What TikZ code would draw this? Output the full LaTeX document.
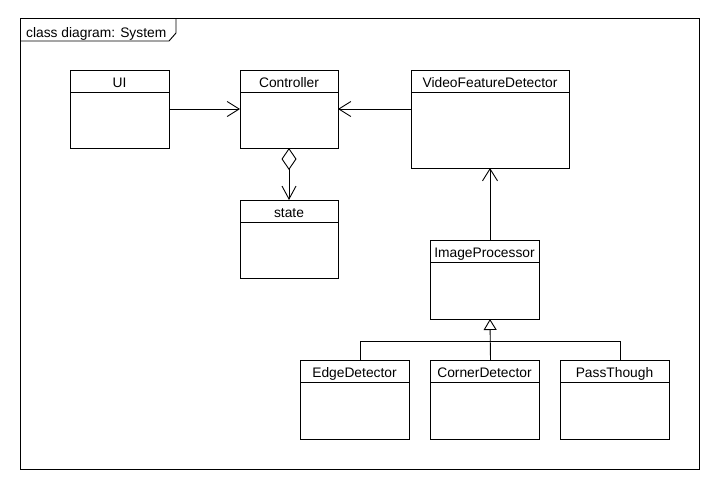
\documentclass[tikz,border=0pt]{standalone}
\usepackage{fontspec}
\setmainfont{Liberation Sans}
\usetikzlibrary{arrows.meta}
\newcommand\umlfont{\fontsize{13.8}{16}\selectfont}
% #1 name, #2 left, #3 top, #4 width, #5 height, #6 class name
\newcommand\umlclass[6]{%
  \node[classframe, minimum width=#4pt, minimum height=#5pt, anchor=north west] (#1) at (#2,#3) {};
  \draw[uml] ([yshift=-22pt]#1.north west) -- ([yshift=-22pt]#1.north east);
  \node[classname] (#1-name) at ([yshift=-17pt]#1.north) {#6};
}
\tikzset{
  uml/.style={line width=0.9pt, draw=black},
  classframe/.style={uml, rectangle, fill=white, inner sep=0pt, outer sep=0pt},
  classname/.style={font=\umlfont, inner sep=0pt, anchor=base},
  assoc/.style={uml, -{Straight Barb[length=12pt, width=15pt, line width=0.9pt]}},
  aggr/.style={uml, {Diamond[open, length=22pt, width=15pt, line width=0.9pt]}-{Straight Barb[length=13pt, width=14pt, line width=0.9pt]}},
  gener/.style={uml, -{Triangle[open, length=11pt, width=13pt, line width=0.9pt]}},
}
\begin{document}
\begin{tikzpicture}[x=1pt, y=-1pt]
  \useasboundingbox[fill=white] (0,0) rectangle (720,490);

  % diagram frame with its name tab
  \draw[uml] (20,18) rectangle (699,469);
  \draw[uml] (20,41) -- (169,41) -- (176,33) -- (176,18);
  \node[font=\umlfont, anchor=base west, inner sep=0pt] (title) at (26,37) {class diagram: System};

  % classes
  \umlclass{ui}{70}{70}{99}{78}{UI}
  \umlclass{ctrl}{240}{70}{98}{78}{Controller}
  \umlclass{vfd}{411}{70}{158}{98}{VideoFeatureDetector}
  \umlclass{state}{240}{200}{98}{78}{state}
  \umlclass{ip}{430}{240}{109}{79}{ImageProcessor}
  \umlclass{edge}{300}{360}{109}{79}{EdgeDetector}
  \umlclass{corner}{430}{360}{109}{79}{CornerDetector}
  \umlclass{pass}{560}{360}{109}{79}{PassThough}

  % associations
  \draw[assoc] (ui.east) -- (ctrl.west);
  \draw[assoc] (vfd.west |- ctrl.east) -- (ctrl.east);
  \draw[aggr] (ctrl.south) -- (state.north);
  \draw[assoc] (ip.north -| vfd.south) -- (vfd.south);

  % generalization of the detectors
  \coordinate (bus) at (490,341);
  \draw[uml] ([xshift=6pt]edge.north) |- ([xshift=6pt]pass.north |- bus) -- ([xshift=6pt]pass.north);
  \draw[gener] ([xshift=6pt]corner.north) -- (ip.south -| bus);
\end{tikzpicture}
\end{document}
